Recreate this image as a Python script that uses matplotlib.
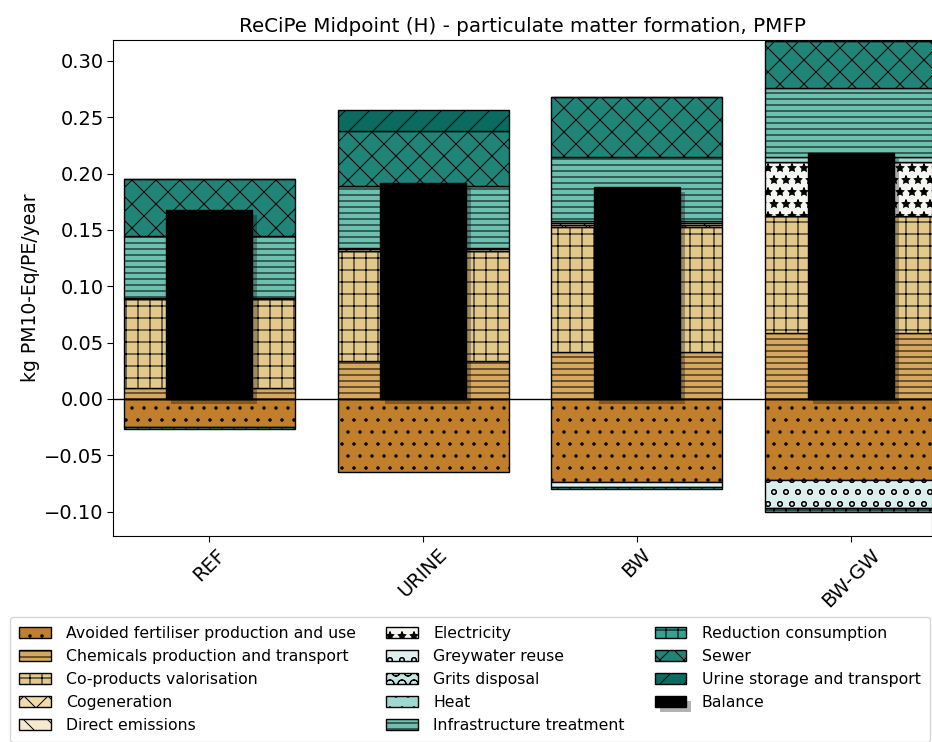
import numpy as np
import matplotlib
matplotlib.use('Agg')
import matplotlib.pyplot as plt
import matplotlib.patheffects as pe

scenarios = ['REF', 'URINE', 'BW', 'BW-GW']

# contributions per scenario, kg PM10-Eq/PE/year
avoided_fertiliser = [-0.025, -0.065, -0.074, -0.072]
chemicals = [0.010, 0.034, 0.042, 0.059]
co_products = [0.079, 0.097, 0.111, 0.103]
cogeneration = [0.0, 0.0, 0.001, 0.0]
direct_emissions = [0.001, 0.002, 0.002, 0.0]
electricity = [0.0, 0.001, 0.002, 0.048]
greywater_reuse = [0.0, 0.0, -0.004, -0.025]
grits_disposal = [0.0, 0.0, 0.0, 0.0]
heat = [0.0, 0.0, 0.0, 0.005]
infrastructure = [0.055, 0.055, 0.057, 0.061]
reduction_consumption = [-0.002, 0.0, -0.002, -0.003]
sewer = [0.050, 0.049, 0.053, 0.042]
urine_storage = [0.0, 0.0185, 0.0, 0.0]

components = [
    ('Avoided fertiliser production and use', avoided_fertiliser, '#c17f2c', '.'),
    ('Chemicals production and transport', chemicals, '#d6a75e', '--'),
    ('Co-products valorisation', co_products, '#e3c98b', '+'),
    ('Cogeneration', cogeneration, '#f0dca8', 'x'),
    ('Direct emissions', direct_emissions, '#f6e9cd', '\\'),
    ('Electricity', electricity, '#f5f5f2', '*'),
    ('Greywater reuse', greywater_reuse, '#dcefed', 'o'),
    ('Grits disposal', grits_disposal, '#c3e6e1', 'O'),
    ('Heat', heat, '#9fd9cf', '.'),
    ('Infrastructure treatment', infrastructure, '#6cc0b0', '--'),
    ('Reduction consumption', reduction_consumption, '#35a192', '+'),
    ('Sewer', sewer, '#208478', 'x'),
    ('Urine storage and transport', urine_storage, '#0b6b60', '/'),
]

# drawn at 72 dpi so the hatch tiles are 72 px; S keeps sizes as at 100 dpi
S = 100 / 72
plt.rcParams['font.family'] = 'DejaVu Sans'
plt.rcParams['hatch.linewidth'] = 1.0
plt.rcParams['axes.linewidth'] = 0.8 * S
plt.rcParams['patch.linewidth'] = 1.0 * S
plt.rcParams['xtick.major.width'] = 0.8 * S
plt.rcParams['ytick.major.width'] = 0.8 * S
plt.rcParams['xtick.major.size'] = 4 * S
plt.rcParams['ytick.major.size'] = 4 * S

fig = plt.figure(figsize=(932 / 72, 742 / 72), dpi=72)
ax = fig.add_axes([113 / 932, 1 - 536 / 742, 819 / 932, 496 / 742])

x = np.arange(len(scenarios))
pos_base = np.zeros(len(scenarios))
neg_base = np.zeros(len(scenarios))
handles = []
for label, vals, color, hatch in components:
    vals = np.array(vals)
    bottoms = np.where(vals >= 0, pos_base, neg_base)
    h = ax.bar(x, vals, width=0.8, bottom=bottoms, color=color, edgecolor='black',
               linewidth=1.0 * S, hatch=hatch, label=label, zorder=2)
    handles.append(h)
    pos_base += np.clip(vals, 0, None)
    neg_base += np.clip(vals, None, 0)

balance = pos_base + neg_base
hb = ax.bar(x, balance, width=0.4, color='black', edgecolor='black', label='Balance', zorder=3,
            path_effects=[pe.SimplePatchShadow(offset=(5, -5)), pe.Normal()])
handles.append(hb)

ax.axhline(0, color='black', linewidth=1.0 * S, zorder=4)
ax.set_xlim(-0.45, 3.38)
ax.set_ylim(-0.1216, 0.3186)
ax.set_xticks(x)
ax.set_xticklabels(scenarios, rotation=45, fontsize=14 * S)
ax.tick_params(axis='y', labelsize=14 * S)
ax.set_yticks(np.arange(-0.10, 0.301, 0.05))
ax.set_ylabel('kg PM10-Eq/PE/year', fontsize=13.5 * S)
ax.set_title('ReCiPe Midpoint (H) - particulate matter formation, PMFP', fontsize=14.3 * S, pad=8)

fig.legend(handles=handles, loc='upper left', bbox_to_anchor=(10 / 932, 1 - 617 / 742),
           ncol=3, fontsize=11.3 * S, frameon=True, borderaxespad=0, borderpad=0.6,
           handlelength=2, handletextpad=1.0, columnspacing=1.9, labelspacing=0.5)

fig.savefig('out.png', dpi=72)
